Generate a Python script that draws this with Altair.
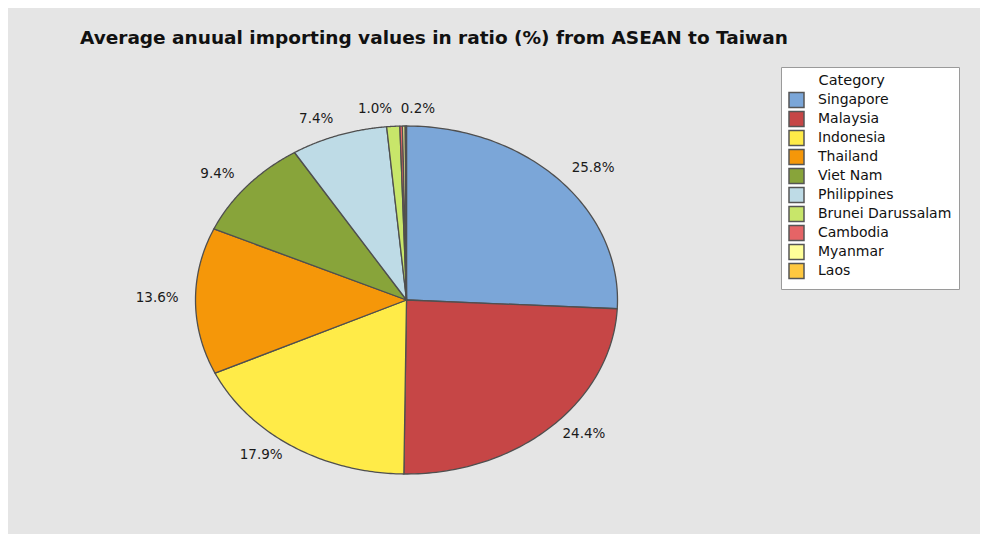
import altair as alt
import pandas as pd

categories = ["Singapore", "Malaysia", "Indonesia", "Thailand", "Viet Nam",
              "Philippines", "Brunei Darussalam", "Cambodia", "Myanmar", "Laos"]
values = [25.8, 24.4, 17.9, 13.6, 9.4, 7.4, 1.0, 0.2, 0.2, 0.1]
labels = ["25.8%", "24.4%", "17.9%", "13.6%", "9.4%", "7.4%", "1.0%", "0.2%", "", ""]
colors = ["#7BA6D8", "#C64646", "#FFEB48", "#F59709", "#88A43A",
          "#BEDBE6", "#C8E66A", "#E56466", "#FFFF99", "#FFC83F"]
title_text = "Average anuual importing values in ratio (%) from ASEAN to Taiwan"
legend_title = "Category"

df = pd.DataFrame({
    "category": categories,
    "value": values,
    "label": labels,
    "order": list(range(len(categories))),
})

N = 90
FONT = "DejaVu Sans"

xscale = alt.Scale(domain=[-1, 1], range=[187.5, 609.5], nice=False, zero=False)
yscale = alt.Scale(domain=[-1, 1], range=[416, 68], nice=False, zero=False)

base = alt.Chart(df).transform_window(
    cum="sum(value)", sort=[alt.SortField("order")], frame=[None, 0]
).transform_joinaggregate(
    total="sum(value)"
).transform_calculate(
    start="(datum.cum - datum.value) / datum.total * 2 * PI"
).transform_calculate(
    end="datum.cum / datum.total * 2 * PI"
)

slices = base.transform_calculate(
    k=f"sequence(0, {N + 3})"
).transform_flatten(["k"]).transform_calculate(
    t=f"clamp((datum.k - 1) / {N}, 0, 1)"
).transform_calculate(
    r=f"(datum.k == 0 || datum.k == {N + 2}) ? 0 : 1"
).transform_calculate(
    a="datum.start + (datum.end - datum.start) * datum.t"
).transform_calculate(
    px="datum.r * sin(datum.a)"
).transform_calculate(
    py="datum.r * cos(datum.a)"
).mark_line(stroke="#4f4f4f", strokeWidth=1.3, strokeJoin="round").encode(
    x=alt.X("px:Q", scale=xscale, axis=None),
    y=alt.Y("py:Q", scale=yscale, axis=None),
    fill=alt.Fill(
        "category:N",
        scale=alt.Scale(domain=categories, range=colors),
        sort=categories,
        legend=alt.Legend(
            title="\u200b" + "\u00a0" * 6 + "\u2009" + legend_title,
            orient="none", legendX=773, legendY=9,
            symbolType="square", symbolSize=225,
            symbolStrokeColor="#555555", symbolStrokeWidth=1.5,
            symbolOpacity=1,
            fillColor="#ffffff", strokeColor="#9a9a9a",
            padding=7, titlePadding=3, rowPadding=-2.0, labelOffset=13,
            labelFont=FONT, labelFontSize=14, labelColor="#111111",
            titleFont=FONT, titleFontSize=14.5, titleFontWeight="normal",
            titleColor="#111111", labelLimit=300,
        ),
    ),
    order=alt.Order("k:Q"),
)

lab = base.transform_filter("datum.label != ''").transform_calculate(
    mid="(datum.start + datum.end) / 2"
).transform_calculate(
    lx="1.08 * sin(datum.mid)"
).transform_calculate(
    ly="1.08 * cos(datum.mid)"
)

text_kw = dict(baseline="middle", dy=-3, font=FONT, fontSize=13.5, color="#1a1a1a")
enc = dict(
    x=alt.X("lx:Q", scale=xscale, axis=None),
    y=alt.Y("ly:Q", scale=yscale, axis=None),
    text="label:N",
)
right_labels = lab.transform_filter(
    "datum.mid < PI || datum.value < 0.5"
).mark_text(align="left", **text_kw).encode(**enc)
left_labels = lab.transform_filter(
    "!(datum.mid < PI || datum.value < 0.5)"
).mark_text(align="right", **text_kw).encode(**enc)

chart = alt.layer(slices, right_labels, left_labels).properties(
    width=972,
    height=476,
    padding={"left": 0, "top": 50, "right": 0, "bottom": 0},
    autosize=alt.AutoSizeParams(type="none"),
    background="#e5e5e5",
    title=alt.TitleParams(
        text=title_text, anchor="start", frame="group", dx=72, offset=13, dy=17,
        baseline="alphabetic", font=FONT, fontSize=18.5, fontWeight="bold",
        color="#111111",
    ),
).configure_view(stroke=None)

chart.save("out.html", embed_options={"renderer": "svg", "actions": False})
